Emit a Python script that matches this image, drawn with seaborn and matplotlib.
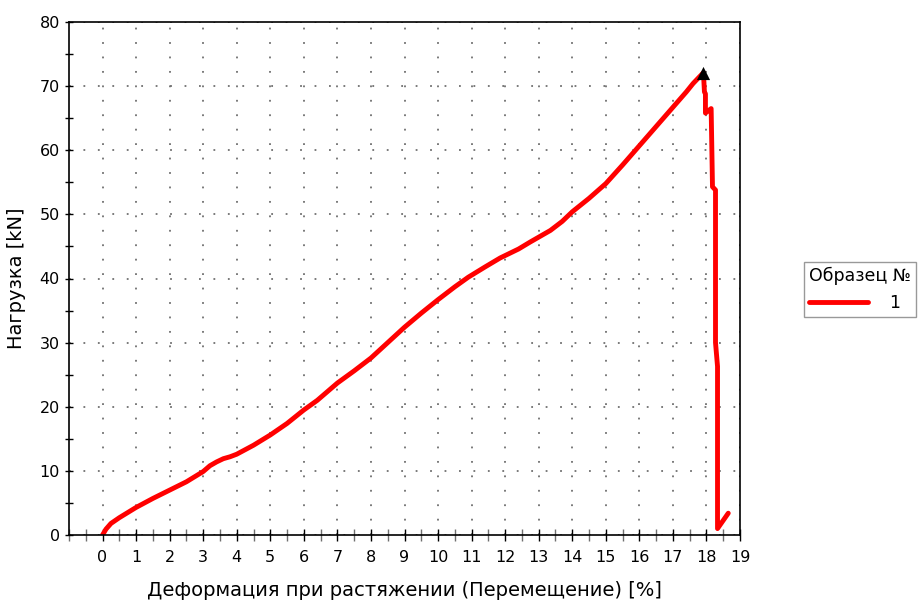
import numpy as np
import pandas as pd
import matplotlib
matplotlib.use("Agg")
import matplotlib.pyplot as plt
from matplotlib.ticker import FixedLocator
import seaborn as sns

# Tensile test record: elongation (%) vs load (kN), specimen 1
strain = [0.0, 0.1, 0.25, 0.5, 0.75, 1.0, 1.5, 2.0, 2.5, 3.0, 3.2, 3.4, 3.6, 3.8,
          4.0, 4.5, 5.0, 5.5, 6.0, 6.4, 7.0, 7.5, 8.0, 8.5, 9.0, 9.5, 10.0, 10.5,
          10.9, 11.4, 11.85, 12.4, 12.75, 13.05, 13.35, 13.7, 14.0, 14.5, 15.0,
          15.5, 16.0, 16.5, 17.0, 17.4, 17.6, 17.8, 17.91, 17.94, 17.97, 17.97,
          18.14, 18.18, 18.27, 18.27, 18.33, 18.33, 18.65]
load = [0.0, 0.9, 1.8, 2.7, 3.5, 4.3, 5.7, 7.0, 8.3, 9.9, 10.8, 11.4, 11.9, 12.2,
        12.6, 14.0, 15.6, 17.4, 19.5, 21.0, 23.7, 25.6, 27.6, 30.0, 32.4, 34.6, 36.7,
        38.7, 40.2, 41.8, 43.2, 44.6, 45.7, 46.6, 47.5, 48.9, 50.4, 52.5, 54.8,
        57.7, 60.7, 63.7, 66.7, 69.1, 70.4, 71.5, 72.1, 69.1, 68.8, 65.8,
        66.5, 54.3, 53.8, 30.0, 26.3, 1.0, 3.4]
specimen = ["1"] * len(strain)

peak_strain = [17.91]
peak_load = [72.1]

x_ticks = list(range(0, 20))
y_ticks = list(range(0, 81, 10))

df = pd.DataFrame({"strain": strain, "load": load, "Образец №": specimen})

sns.set_theme(style="white", rc={"xtick.bottom": True, "ytick.left": True})
plt.rcParams["font.family"] = ["DejaVu Sans"]

fig = plt.figure(figsize=(9.19, 6.01), dpi=100)
ax = fig.add_axes([69 / 919, 1 - 535 / 601, (740 - 69) / 919, (535 - 22) / 601])

sns.lineplot(data=df, x="strain", y="load", hue="Образец №", palette=["#ff0000"],
             sort=False, estimator=None, linewidth=3.5, ax=ax, legend=True)
sns.scatterplot(x=peak_strain, y=peak_load, marker="^", color="black", s=90,
                edgecolor="black", linewidth=0, zorder=5, ax=ax, legend=False)

ax.set_xlim(-1, 19)
ax.set_ylim(0, 80)
ax.xaxis.set_major_locator(FixedLocator(x_ticks))
ax.xaxis.set_minor_locator(FixedLocator([-1] + [v + 0.5 for v in range(-1, 19)]))
ax.yaxis.set_major_locator(FixedLocator(y_ticks))
ax.yaxis.set_minor_locator(FixedLocator(list(range(5, 80, 10))))

ax.tick_params(axis="both", which="both", direction="inout", labelsize=11.5,
               labelcolor="black", bottom=True, left=True)
ax.tick_params(axis="x", which="major", length=9, width=1, color="black", pad=6)
ax.tick_params(axis="x", which="minor", length=9, width=1, color="#707070")
ax.tick_params(axis="y", which="major", length=6, width=1, color="black")
ax.tick_params(axis="y", which="minor", length=6, width=1, color="black")

ax.grid(True, which="major", color="#707070", linestyle=(0, (1.0, 7)), linewidth=1.3)
for s in ax.spines.values():
    s.set_color("black")
    s.set_linewidth(1.2)
    s.set_visible(True)

ax.set_xlabel("Деформация при растяжении (Перемещение) [%]", fontsize=14,
              labelpad=12, color="black")
ax.set_ylabel("Нагрузка [kN]", fontsize=14, labelpad=10, color="black")

handles, labels = ax.get_legend_handles_labels()
ax.get_legend().remove()
leg = fig.legend(handles, labels, title="Образец №", loc="upper left",
                 bbox_to_anchor=(804 / 919, 1 - 262 / 601), borderaxespad=0,
                 frameon=True, fancybox=False, edgecolor="#808080",
                 fontsize=12.5, title_fontsize=12.5, handlelength=3.4,
                 handletextpad=1.2, borderpad=0.3, labelspacing=0.2,
                 alignment="left")
leg._legend_box.sep = 6
leg.get_frame().set_linewidth(1.0)
leg.get_title().set_color("black")
for t in leg.get_texts():
    t.set_color("black")
for h in leg.legend_handles:
    h.set_linewidth(3.5)

fig.savefig("out.png", dpi=100)
